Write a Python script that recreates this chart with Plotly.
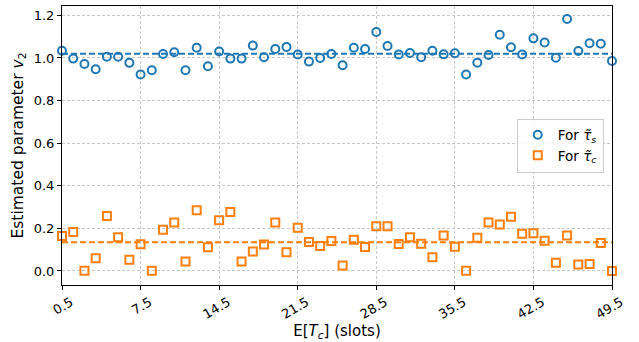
import plotly.graph_objects as go

x_vals = [0.5 + i for i in range(50)]
tau_s = [1.034, 0.997, 0.972, 0.947, 1.006, 1.006, 0.977, 0.922, 0.942, 1.019,
         1.027, 0.942, 1.048, 0.961, 1.030, 0.997, 0.997, 1.058, 1.003, 1.042,
         1.052, 1.016, 0.983, 1.000, 1.019, 0.966, 1.048, 1.042, 1.122, 1.056,
         1.016, 1.023, 1.003, 1.034, 1.017, 1.022, 0.922, 0.978, 1.014, 1.109,
         1.050, 1.016, 1.092, 1.073, 1.001, 1.183, 1.033, 1.069, 1.067, 0.986]
tau_c = [0.164, 0.183, 0.001, 0.060, 0.258, 0.158, 0.053, 0.125, 0.001, 0.194,
         0.228, 0.044, 0.285, 0.111, 0.238, 0.277, 0.044, 0.091, 0.124, 0.228,
         0.088, 0.203, 0.136, 0.117, 0.141, 0.025, 0.146, 0.113, 0.210, 0.210,
         0.127, 0.158, 0.128, 0.064, 0.166, 0.114, 0.001, 0.156, 0.228, 0.218,
         0.254, 0.175, 0.177, 0.142, 0.038, 0.166, 0.030, 0.033, 0.131, 0.000]
mean_s = 1.02
mean_c = 0.135
x_ticks = [0.5, 7.5, 14.5, 21.5, 28.5, 35.5, 42.5, 49.5]
y_ticks = [0.0, 0.2, 0.4, 0.6, 0.8, 1.0, 1.2]

blue = "#1f77b4"
orange = "#ff7f0e"
font_family = "DejaVu Sans"

fig = go.Figure()
fig.add_trace(go.Scatter(x=[x_vals[0], x_vals[-1]], y=[mean_s, mean_s], mode="lines",
                         line=dict(color=blue, width=2, dash="6px,3px"), showlegend=False))
fig.add_trace(go.Scatter(x=[x_vals[0], x_vals[-1]], y=[mean_c, mean_c], mode="lines",
                         line=dict(color=orange, width=2, dash="6px,3px"), showlegend=False))
fig.add_trace(go.Scatter(x=x_vals, y=tau_s, mode="markers", name="For <i>τ̃</i><sub><i>s</i></sub>",
                         marker=dict(symbol="circle-open", size=8, color=blue, line=dict(width=2, color=blue)),
                         cliponaxis=False))
fig.add_trace(go.Scatter(x=x_vals, y=tau_c, mode="markers", name="For <i>τ̃</i><sub><i>c</i></sub>",
                         marker=dict(symbol="square-open", size=8, color=orange, line=dict(width=2, color=orange)),
                         cliponaxis=False))

fig.update_layout(
    width=639, height=342,
    margin=dict(l=62, r=27, t=6, b=57),
    paper_bgcolor="white", plot_bgcolor="white",
    font=dict(family=font_family, size=13, color="black"),
    legend=dict(x=0.985, y=0.5, xanchor="right", yanchor="middle",
                bgcolor="rgba(255,255,255,0.8)", bordercolor="#cccccc", borderwidth=1,
                font=dict(size=13.5)),
)
fig.update_xaxes(
    range=[0.5, 49.5], tickvals=x_ticks, ticktext=[str(v) for v in x_ticks],
    tickangle=-30, ticks="outside", ticklen=4, tickcolor="black", ticklabelshift=9,
    showline=True, linecolor="black", linewidth=1, mirror=True,
    showgrid=True, gridcolor="#c8c8c8", griddash="3px,2px", gridwidth=1,
    zeroline=False,
    title=dict(text="E[<i>T</i><sub><i>c</i></sub>] (slots)", standoff=4, font=dict(size=15)),
)
fig.update_yaxes(
    range=[-0.066, 1.244], tickvals=y_ticks, ticktext=[f"{v:.1f}" for v in y_ticks],
    ticks="outside", ticklen=4, tickcolor="black",
    showline=True, linecolor="black", linewidth=1, mirror=True,
    showgrid=True, gridcolor="#c8c8c8", griddash="3px,2px", gridwidth=1,
    zeroline=False,
    title=dict(text="Estimated parameter <i>v</i><sub>2</sub>", standoff=6, font=dict(size=15.5)),
)

fig.write_html("out.html")
